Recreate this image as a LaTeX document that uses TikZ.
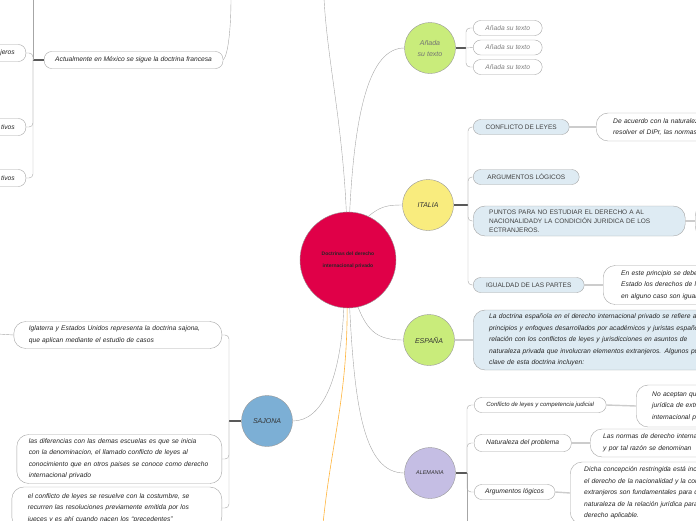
\documentclass[tikz,border=0pt]{standalone}
\usepackage{fontspec}
\setmainfont{Liberation Sans}
\usetikzlibrary{calc}

\definecolor{rojo}{RGB}{224,0,72}
\definecolor{verde}{RGB}{201,236,123}
\definecolor{amarillo}{RGB}{249,236,126}
\definecolor{lila}{RGB}{197,190,228}
\definecolor{azul}{RGB}{124,175,213}
\definecolor{celeste}{RGB}{222,235,243}
\definecolor{naranja}{RGB}{255,180,60}

\begin{document}
\begin{tikzpicture}[x=1pt,y=-1pt,
  tema/.style={circle,draw=gray!80,fill=#1,minimum size=51pt,inner sep=0pt,font=\fontsize{7}{11}\selectfont\itshape,align=center,text=black!80},
  hoja/.style={draw=gray!70,fill=white,rounded corners=7.5pt,minimum height=15pt,inner xsep=11pt,inner ysep=0pt,font=\fontsize{6.7}{11.5}\selectfont\itshape,anchor=west,text=black!85},
  caja/.style={rounded corners=12pt,align=left,text width=#1},
  mayus/.style={fill=celeste,font=\fontsize{6.5}{9}\selectfont,text=black!75},
  linea/.style={draw=gray!70,thin},
  tronco/.style={draw=black!65,line width=1.1pt},
  enlace/.style={draw=gray!40,line width=1.4pt}]

\useasboundingbox (0,0) rectangle (696,520);
\clip (0,0) rectangle (696,520);

\node[circle,draw=gray!80,fill=rojo,minimum size=96pt,inner sep=0pt,font=\fontsize{5}{12}\selectfont\bfseries,align=center,text=black!85] (centro) at (348,260) {Doctrinas del derecho\\internacional privado};

\node[tema=verde,text=gray!90!black] (anadir) at (430,48) {Añada\\su texto};
\node[hoja,text=gray,minimum width=69pt] (texto1) at (473,28) {Añada su texto};
\node[hoja,text=gray,minimum width=69pt] (texto2) at (473,47.5) {Añada su texto};
\node[hoja,text=gray,minimum width=69pt] (texto3) at (473,67) {Añada su texto};

\node[tema=amarillo] (italia) at (428,205) {ITALIA};
\node[hoja,mayus,minimum width=96pt] (conflicto) at (473,127) {CONFLICTO DE LEYES};
\node[hoja,mayus,minimum width=106pt] (argumentos) at (473,177) {ARGUMENTOS LÓGICOS};
\node[hoja,mayus,caja=180pt,inner xsep=16pt,minimum height=30pt] (puntos) at (473,221) {PUNTOS PARA NO ESTUDIAR EL DERECHO A AL\\NACIONALIDADY LA CONDICIÓN JURIDICA DE LOS\\ECTRANJEROS.};
\node[hoja,mayus,minimum width=111pt] (igualdad) at (473,285) {IGUALDAD DE LAS PARTES};
\node[hoja,caja=150pt,inner xsep=17pt,minimum height=28pt] (acuerdo) at (596,127) {De acuerdo con la naturaleza\\resolver el DIPr, las normas};
\node[hoja,caja=40pt,minimum height=34pt] (puntosH) at (695,221) {};
\node[hoja,caja=150pt,inner xsep=18pt,minimum height=39pt] (principio) at (603,285) {En este principio se debe\\Estado los derechos de los\\en alguno caso son iguales};

\node[tema=verde] (espana) at (429,340) {ESPAÑA};
\node[hoja,caja=300pt,fill=celeste,inner xsep=16pt,minimum height=60pt] (espanola) at (473,340) {La doctrina española en el derecho internacional privado se refiere a los\\principios y enfoques desarrollados por académicos y juristas españoles en\\relación con los conflictos de leyes y jurisdicciones en asuntos de\\naturaleza privada que involucran elementos extranjeros. Algunos puntos\\clave de esta doctrina incluyen:};

\node[tema=lila,font=\fontsize{5.5}{6}\selectfont\itshape] (alemania) at (430,473) {ALEMANIA};
\node[hoja,minimum width=132pt,inner xsep=6pt,font=\fontsize{6}{11.5}\selectfont\itshape] (conflictoA) at (474,405) {Conflicto de leyes y competencia judicial};
\node[hoja,minimum width=97pt,minimum height=17pt] (naturaleza) at (474,443) {Naturaleza del problema};
\node[hoja,minimum width=78pt] (argumentosA) at (474,492) {Argumentos lógicos};
\node[hoja,caja=100pt,inner xsep=16pt,minimum height=42pt] (aceptan) at (636,406) {No aceptan que la\\jurídica de extranjeros\\internacional privado};
\node[hoja,caja=150pt,inner xsep=13pt,minimum height=28pt] (normas) at (590,443) {Las normas de derecho internacional\\y por tal razón se denominan};
\node[hoja,caja=170pt,inner xsep=14pt,minimum height=62pt] (dicha) at (570,493) {Dicha concepción restringida está incluida\\el derecho de la nacionalidad y la condición\\extranjeros son fundamentales para determinar\\naturaleza de la relación jurídica para\\derecho aplicable.};

\node[tema=azul] (sajona) at (267,421) {SAJONA};
\node[hoja,caja=178pt,anchor=east,inner xsep=15pt,minimum height=27pt] (inglaterra) at (222,335) {Iglaterra y Estados Unidos representa la doctrina sajona,\\que aplican mediante el estudio de casos};
\node[hoja,caja=181pt,anchor=east,inner xsep=12pt,minimum height=49pt] (diferencias) at (222,459) {las diferencias con las demas escuelas es que se inicia\\con la denominacion, el llamado conflicto de leyes al\\conocimiento que en otros paises se conoce como derecho\\internacional privado};
\node[hoja,caja=178pt,anchor=east,inner xsep=16pt,minimum height=42pt] (costumbre) at (222,508) {el conflicto de leyes se resuelve con la costumbre, se\\recurren las resoluciones previamente emitida por los\\jueces y es ahí cuando nacen los ``precedentes''};

\node[hoja,minimum width=178pt,minimum height=17pt] (actualmente) at (44,60) {Actualmente en México se sigue la doctrina francesa};
\node[hoja,anchor=east,minimum height=17pt,text width=60pt,align=right] (izq1) at (26,53) {jeros};
\node[hoja,anchor=east,minimum height=17pt,text width=60pt,align=right] (izq2) at (26,127) {tivos};
\node[hoja,anchor=east,minimum height=17pt,text width=60pt,align=right] (izq3) at (26,178) {tivos};

\coordinate (francia) at (324,-2);
\coordinate (naranjaF) at (323,524);
\coordinate (arribaA) at (231,-2);
\coordinate (izqI) at (-2,334);

\draw[linea] (centro.92) .. controls +(-4,-90) and +(3,60) .. (francia);
\draw[linea] (centro.88) .. controls +(5,-100) and +(-35,0) .. (anadir.west);
\draw[linea] (centro.65) .. controls +(12,-10) and +(-15,0) .. (italia.west);
\draw[linea] (centro.-78) .. controls +(10,25) and +(-25,0) .. (espana.west);
\draw[linea] (centro.-88) .. controls +(5,100) and +(-40,0) .. (alemania.west);
\draw[linea] (centro.-95) .. controls +(-3,70) and +(30,0) .. (sajona.east);
\draw[naranja,line width=0.6pt] (centro.-91) .. controls +(0,90) and +(8,-80) .. (naranjaF);

\draw[tronco] (anadir.east) -- (466,48) coordinate (anadirR);
\draw[linea,rounded corners=4pt] (anadirR) |- (texto1.west);
\draw[linea] (anadirR) -- (texto2.west);
\draw[linea,rounded corners=4pt] (anadirR) |- (texto3.west);

\draw[tronco] (italia.east) -- (468,205) coordinate (italiaR);
\draw[linea,rounded corners=4pt] (italiaR) |- (conflicto.west);
\draw[linea,rounded corners=4pt] (italiaR) |- (argumentos.west);
\draw[linea,rounded corners=4pt] (italiaR) |- (puntos.west);
\draw[linea,rounded corners=4pt] (italiaR) |- (igualdad.west);
\draw[enlace] (conflicto.east) -- (acuerdo.west);
\draw[enlace] (puntos.east) -- (puntosH.west);
\draw[enlace] (igualdad.east) -- (principio.west);

\draw[enlace] (espana.east) -- (espanola.west);

\draw[tronco] (alemania.east) -- (467,473) coordinate (alemaniaR);
\draw[linea,rounded corners=4pt] (alemaniaR) |- (conflictoA.west);
\draw[linea,rounded corners=4pt] (alemaniaR) |- (naturaleza.west);
\draw[linea,rounded corners=4pt] (alemaniaR) |- (argumentosA.west);
\draw[linea] (alemaniaR) -- (467,524) coordinate (alemaniaF);
\draw[enlace] (conflictoA.east) -- (aceptan.west);
\draw[enlace] (naturaleza.east) -- (normas.west);
\draw[enlace] (argumentosA.east) -- (dicha.west);

\draw[tronco] (sajona.west) -- (229,421) coordinate (sajonaR);
\draw[linea,rounded corners=4pt] (sajonaR) |- (inglaterra.east);
\draw[linea,rounded corners=4pt] (sajonaR) |- (diferencias.east);
\draw[linea,rounded corners=4pt] (sajonaR) |- (costumbre.east);
\draw[linea] (inglaterra.west) -- (izqI);

\draw[linea] (actualmente.east) .. controls +(5,-5) and +(0,30) .. (arribaA);
\draw[tronco] (actualmente.west) -- (33,60) coordinate (actualR);
\draw[linea,rounded corners=4pt] (actualR) |- (izq1.east);
\draw[linea,rounded corners=4pt] (actualR) |- (izq2.east);
\draw[linea,rounded corners=4pt] (actualR) |- (izq3.east);
\draw[linea] (actualR) -- (33,-2) coordinate (actualF);

\end{tikzpicture}
\end{document}
